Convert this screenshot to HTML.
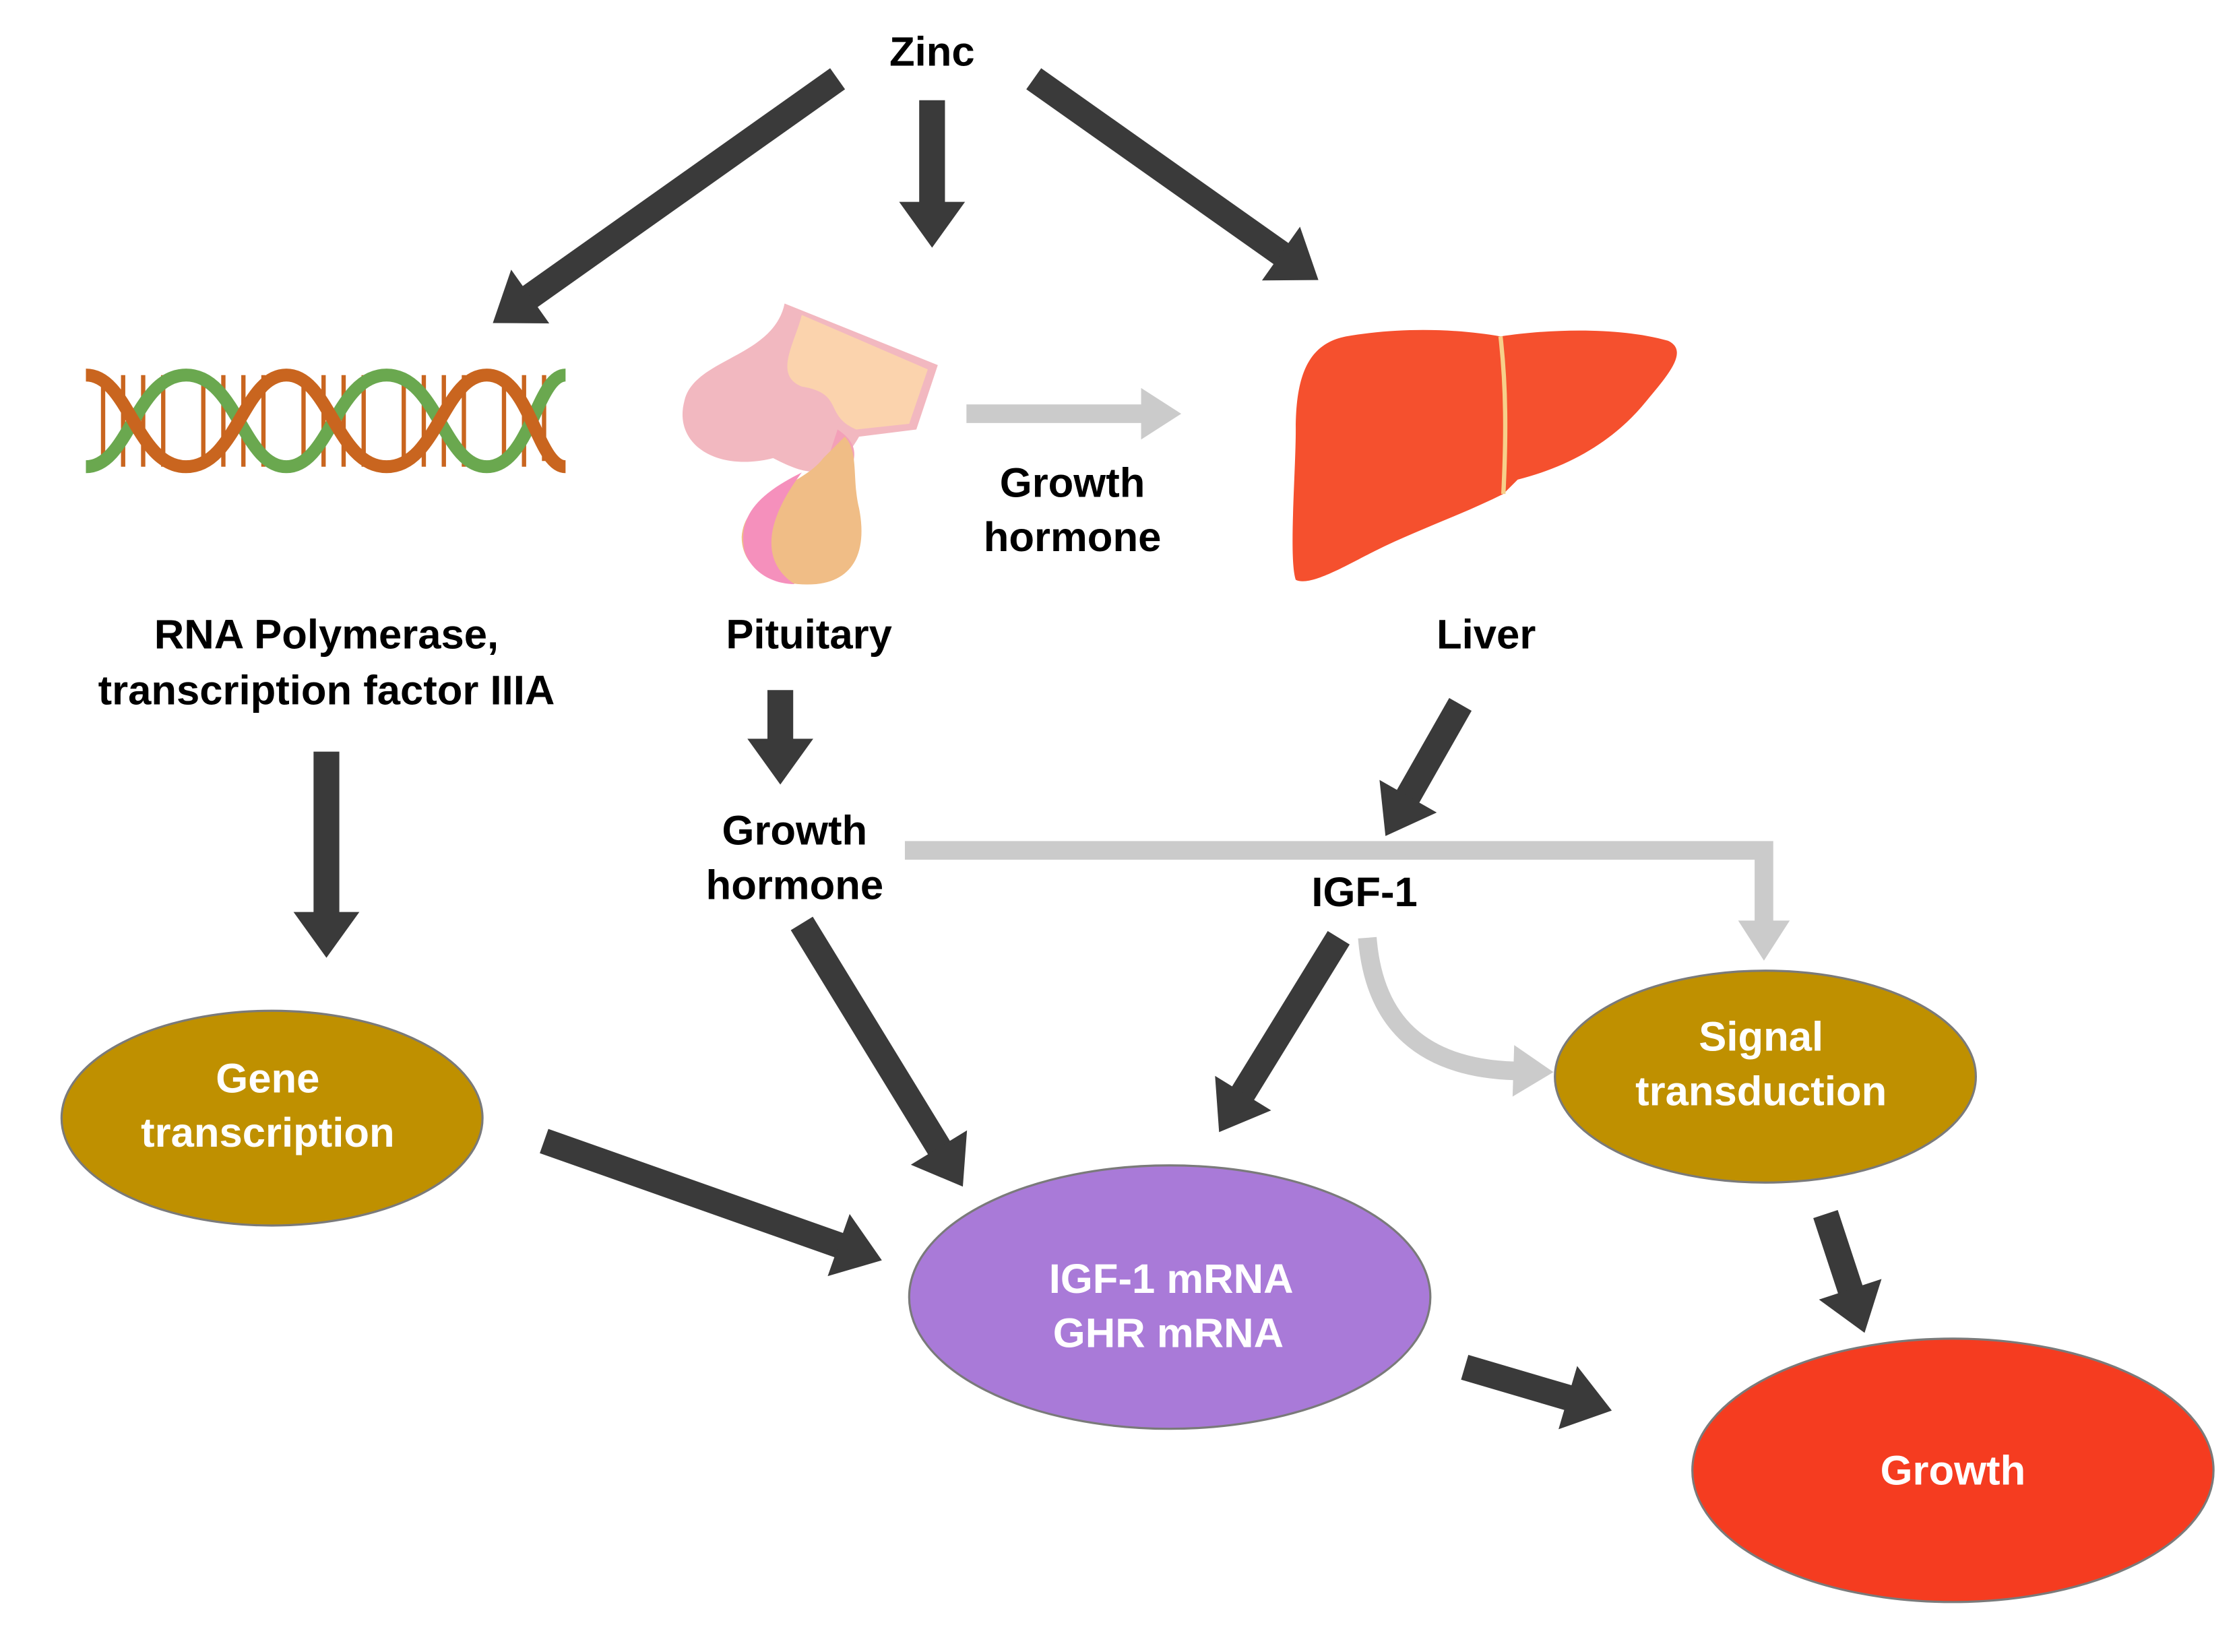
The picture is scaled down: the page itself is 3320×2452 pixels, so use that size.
<!DOCTYPE html>
<html><head><meta charset="utf-8"><style>
html,body{margin:0;padding:0;background:#fff;}
svg{display:block;}
text{font-family:"Liberation Sans",Arial,sans-serif;font-weight:bold;font-size:29px;text-anchor:middle;}
</style></head><body>
<svg width="3320" height="2452" viewBox="0 0 1562.4 1153.9" preserveAspectRatio="none" xmlns="http://www.w3.org/2000/svg">
<defs>
<marker id="dk" markerUnits="userSpaceOnUse" markerWidth="32" markerHeight="46" refX="0" refY="23" orient="auto" viewBox="0 0 32 46" overflow="visible"><path d="M-1,0 L31,23 L-1,46 Z" fill="#3a3a3a"/></marker>
<marker id="gr" markerUnits="userSpaceOnUse" markerWidth="28" markerHeight="36" refX="0" refY="18" orient="auto" viewBox="0 0 28 36" overflow="visible"><path d="M-1,0 L27,18 L-1,36 Z" fill="#cbcbcb"/></marker>
</defs>
<rect width="1562.4" height="1153.9" fill="#fff"/>

<g stroke="#3a3a3a" stroke-width="18" fill="none" marker-end="url(#dk)">
<line x1="585" y1="55" x2="369.5" y2="207.7"/>
<line x1="651" y1="70" x2="651" y2="142"/>
<line x1="722" y1="55" x2="895.5" y2="177.7"/>
<line x1="545" y1="482" x2="545" y2="517"/>
<line x1="228" y1="525" x2="228" y2="638"/>
<line x1="1020" y1="492" x2="983" y2="557"/>
<line x1="560" y1="645" x2="656.3" y2="802.4"/>
<line x1="935" y1="655" x2="867.7" y2="764.4"/>
<line x1="380" y1="797" x2="586.7" y2="870"/>
<line x1="1023" y1="955" x2="1096" y2="976.5"/>
<line x1="1275" y1="848" x2="1292.6" y2="901.5"/>
</g>
<g stroke="#cbcbcb" stroke-width="13" fill="none" marker-end="url(#gr)">
<line x1="675" y1="289" x2="798" y2="289"/>
<path d="M632,594 L1232,594 L1232,644"/>
<path d="M955,655 Q962,745 1058,748"/>
</g>

<!-- DNA -->
<g fill="none" stroke-width="9">
<g stroke="#c9651f" stroke-width="3">
<line x1="72" y1="266" x2="72" y2="322"/><line x1="86" y1="262" x2="86" y2="326"/><line x1="100" y1="262" x2="100" y2="326"/>
<line x1="114" y1="262" x2="114" y2="326"/><line x1="142" y1="262" x2="142" y2="326"/><line x1="156" y1="262" x2="156" y2="326"/>
<line x1="170" y1="262" x2="170" y2="326"/><line x1="184" y1="262" x2="184" y2="326"/><line x1="212" y1="262" x2="212" y2="326"/>
<line x1="226" y1="262" x2="226" y2="326"/><line x1="240" y1="262" x2="240" y2="326"/><line x1="254" y1="262" x2="254" y2="326"/>
<line x1="282" y1="262" x2="282" y2="326"/><line x1="296" y1="262" x2="296" y2="326"/><line x1="310" y1="262" x2="310" y2="326"/>
<line x1="324" y1="262" x2="324" y2="326"/><line x1="352" y1="262" x2="352" y2="326"/><line x1="366" y1="262" x2="366" y2="326"/>
<line x1="380" y1="262" x2="380" y2="322"/>
</g>
<path stroke="#6aa84f" d="M60,326 C90,326 95,262 130,262 C165,262 170,326 200,326 C230,326 235,262 270,262 C305,262 310,326 340,326 C370,326 375,262 395,262"/>
<path stroke="#c9651f" d="M60,262 C90,262 95,326 130,326 C165,326 170,262 200,262 C230,262 235,326 270,326 C305,326 310,262 340,262 C370,262 375,326 395,326"/>
</g>

<!-- Pituitary -->
<g>
<path d="M548,212 L655,255 L640,300 L600,305 C580,340 560,330 540,320 C500,330 470,310 478,280 C485,250 540,250 548,212 Z" fill="#f2b8c0"/>
<path d="M560,220 L648,258 L635,296 L598,300 C575,290 590,275 560,270 C540,262 555,240 560,220 Z" fill="#fbd3ad"/>
<path d="M585,300 C600,310 600,320 588,340 L575,330 Z" fill="#f3a0b8"/>
<path d="M575,320 C560,340 520,345 518,375 C518,400 545,410 570,408 C600,405 605,380 600,355 C595,335 600,315 590,305 Z" fill="#f0bd86"/>
<path d="M560,330 C530,345 515,360 520,385 C525,400 540,408 555,408 C535,395 530,370 560,330 Z" fill="#f590bc"/>
</g>

<!-- Liver -->
<g>
<path d="M940,235 C980,228 1020,230 1048,235 C1080,230 1130,228 1165,238 C1180,245 1165,262 1150,280 C1130,305 1100,325 1060,335 L1050,345 C1020,360 990,370 960,385 C940,395 915,410 905,405 C900,390 905,330 905,300 C905,260 915,240 940,235 Z" fill="#f5502e"/>
<path d="M1048,235 C1052,270 1052,305 1050,345" stroke="#f6d08a" stroke-width="3" fill="none"/>
</g>

<ellipse cx="190" cy="781" rx="147" ry="75" fill="#bf9000" stroke="#7a7a7a" stroke-width="1.5"/>
<ellipse cx="817" cy="906" rx="182" ry="92" fill="#a97ad8" stroke="#7a7a7a" stroke-width="1.5"/>
<ellipse cx="1233" cy="752" rx="147" ry="74" fill="#bf9000" stroke="#7a7a7a" stroke-width="1.5"/>
<ellipse cx="1364" cy="1027" rx="182" ry="92" fill="#f53c20" stroke="#7a7a7a" stroke-width="1.5"/>

<text x="651" y="46">Zinc</text>
<text x="749" y="347">Growth</text>
<text x="749" y="385">hormone</text>
<text x="228" y="453">RNA Polymerase,</text>
<text x="228" y="492">transcription factor IIIA</text>
<text x="565" y="453">Pituitary</text>
<text x="1038" y="453">Liver</text>
<text x="555" y="590">Growth</text>
<text x="555" y="628">hormone</text>
<text x="953" y="633">IGF-1</text>
<g fill="#fff">
<text x="187" y="763">Gene</text>
<text x="187" y="801">transcription</text>
<text x="818" y="903">IGF-1 mRNA</text>
<text x="816" y="941">GHR mRNA</text>
<text x="1230" y="734">Signal</text>
<text x="1230" y="772">transduction</text>
<text x="1364" y="1037">Growth</text>
</g>
</svg>
</body></html>
